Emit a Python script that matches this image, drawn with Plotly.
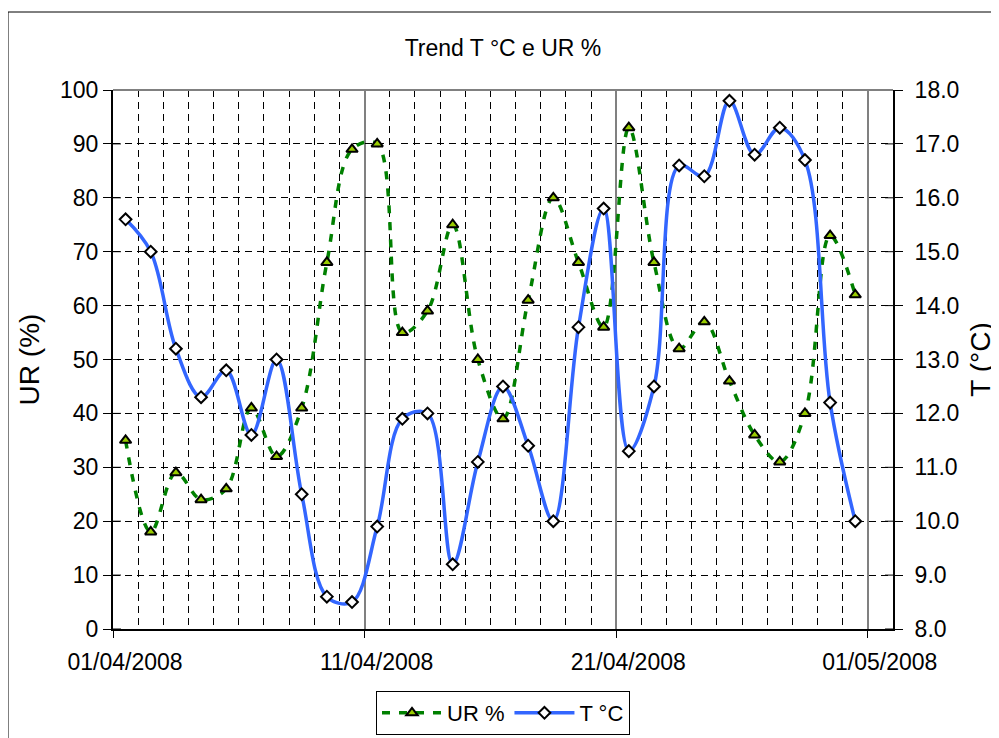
import plotly.graph_objects as go
import pandas as pd

# ---- data ----
dates = pd.date_range("2008-04-01 12:00", periods=30, freq="D")
ur_values = [35, 18, 29, 24, 26, 41, 32, 41, 68, 89,
             90, 55, 59, 75, 50, 39, 61, 80, 68, 56,
             93, 68, 52, 57, 46, 36, 31, 40, 73, 62]
t_values = [15.6, 15.0, 13.2, 12.3, 12.8, 11.6, 13.0, 10.5, 8.6, 8.5,
            9.9, 11.9, 12.0, 9.2, 11.1, 12.5, 11.4, 10.0, 13.6, 15.8,
            11.3, 12.5, 16.6, 16.4, 17.8, 16.8, 17.3, 16.7, 12.2, 10.0]
left_ticks = list(range(0, 101, 10))
right_ticks = [8 + i for i in range(11)]

FONT = "Liberation Sans, Arial, sans-serif"
OFF = 8  # page body margin
W, H = 999 - OFF, 738 - OFF
ML, MT = 113 - OFF, 90 - OFF
PW, PH = 780, 539
MR = W - ML - PW
MB = H - MT - PH

fig = go.Figure()
fig.add_trace(go.Scatter(
    x=dates, y=ur_values, name="UR %", mode="lines+markers",
    line=dict(color="#008000", width=3.5, dash="8px,9px", shape="spline", smoothing=1),
    marker=dict(symbol="triangle-up", size=10, color="#99CC00",
                line=dict(color="black", width=2)),
    yaxis="y"))
fig.add_trace(go.Scatter(
    x=dates, y=t_values, name="T °C", mode="lines+markers",
    line=dict(color="#3366FF", width=3.5, shape="spline", smoothing=1),
    marker=dict(symbol="diamond", size=9, color="white",
                line=dict(color="black", width=2)),
    yaxis="y2"))

shapes = []
# inner halves of the crossing tick marks
for v in left_ticks:
    shapes.append(dict(type="line", xref="paper", yref="y", x0=0, x1=8 / PW,
                       y0=v, y1=v, line=dict(color="black", width=1)))
for v in right_ticks:
    shapes.append(dict(type="line", xref="paper", yref="y2", x0=1 - 8 / PW, x1=1,
                       y0=v, y1=v, line=dict(color="black", width=1)))
# top border of plot area
shapes.append(dict(type="line", xref="paper", yref="paper", x0=0, x1=1, y0=1, y1=1,
                   line=dict(color="#808080", width=2)))
# outer chart frame (screen x=8, y=12)
shapes.append(dict(type="rect", xref="paper", yref="paper",
                   x0=(8 - OFF - ML) / PW, x1=(W + 10 - ML) / PW,
                   y0=-(H + 10 - MT - PH) / PH, y1=(MT + PH - (12 - OFF)) / PH,
                   line=dict(color="black", width=1)))

fig.update_layout(
    width=W, height=H,
    margin=dict(l=ML, r=MR, t=MT, b=MB, autoexpand=False),
    paper_bgcolor="white", plot_bgcolor="white",
    font=dict(family=FONT, size=23, color="black"),
    title=dict(text="Trend T °C e UR %", x=(ML + PW / 2) / W, xanchor="center",
               y=1 - (48 - OFF) / H, yanchor="middle", font=dict(size=23)),
    xaxis=dict(
        type="date", range=["2008-04-01", "2008-05-02"],
        tick0="2008-04-01", dtick=10 * 86400000, tickformat="%d/%m/%Y",
        ticks="outside", ticklen=7, tickcolor="black",
        ticklabelshift=12, ticklabelstandoff=4,
        showline=True, linecolor="black", linewidth=2,
        showgrid=True, gridcolor="#808080", gridwidth=1.5,
        minor=dict(dtick=86400000, tick0="2008-04-01", showgrid=True,
                   gridcolor="black", gridwidth=1, griddash="7px,5px"),
        zeroline=False),
    yaxis=dict(
        range=[0, 100], tickvals=left_ticks,
        ticks="outside", ticklen=8, tickcolor="black",
        showline=True, linecolor="black", linewidth=2,
        showgrid=True, gridcolor="black", gridwidth=1, griddash="7px,5px",
        title=dict(text="UR (%)", standoff=12), zeroline=False),
    yaxis2=dict(
        range=[8, 18], tickvals=right_ticks, tickformat=".1f",
        overlaying="y", side="right",
        ticks="outside", ticklen=8, tickcolor="black", ticklabelstandoff=7,
        showline=True, linecolor="black", linewidth=2,
        showgrid=False, zeroline=False,
        title=dict(text="T (°C)", standoff=12)),
    legend=dict(orientation="h", x=(ML + PW / 2) / W, xanchor="center",
                xref="container", yref="container",
                y=1 - (735 - OFF) / H, yanchor="bottom",
                bordercolor="black", borderwidth=1, bgcolor="white",
                font=dict(size=22), itemwidth=60, tracegroupgap=0),
    shapes=shapes,
    showlegend=True,
)

fig.write_html("out.html")
